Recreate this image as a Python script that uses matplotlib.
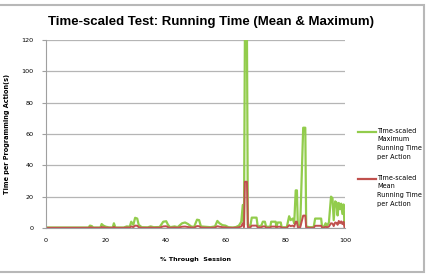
import matplotlib
matplotlib.use("Agg")
import matplotlib.pyplot as plt
from matplotlib.patches import Rectangle
from matplotlib.lines import Line2D

# % through session and running times (s)
pct = [0, 13, 14.2, 14.7, 15.3, 15.8, 18.2, 18.6, 19.2, 20, 21, 22.3, 22.7, 23.2,
       26, 27, 28, 28.5, 29.2, 29.8, 30.5, 31, 32, 34, 35, 36, 38, 39.2, 40.2,
       40.8, 41.5, 43, 44, 45.5, 46.5, 47.5, 48.5, 49.5, 50.5, 51.2, 51.8, 53,
       55, 56.5, 57.3, 58, 59, 60, 61, 62.5, 63.5, 64.5, 65.3, 65.8, 66.2, 66.5,
       67.2, 67.5, 68.3, 68.8, 70.4, 70.8, 72, 72.5, 73.2, 73.6, 75, 75.3, 76.8,
       77, 77.5, 78.5, 78.8, 80.5, 81.3, 81.8, 82.5, 83, 83.5, 83.9, 84.2, 85,
       86, 86.7, 87, 88, 89.5, 90, 92, 92.3, 93, 93.5, 94, 94.6, 95.3, 95.8,
       96.2, 96.7, 97.2, 97.5, 97.9, 98.3, 98.7, 99.1, 99.5, 99.8]
max_time = [0.3, 0.3, 0.3, 1.5, 1.2, 0.3, 0.3, 2.5, 1.5, 0.8, 0.4, 0.3, 3, 0.3,
            0.3, 1, 0.8, 4, 2, 6.5, 6, 2, 0.5, 0.4, 1, 0.5, 0.6, 4, 4.3,
            2, 0.5, 1, 0.5, 3, 3.5, 2.5, 1, 0.6, 5.3, 5, 1, 0.8,
            0.5, 1, 4.5, 3, 1.8, 1.5, 0.5, 0.3, 0.6, 1.5, 4, 14.7, 2, 120,
            120, 2, 1, 6.6, 6.6, 1, 1.5, 4, 4, 0.8, 0.8, 4, 4,
            0.8, 3.5, 3.5, 0.5, 0.4, 7.5, 5, 6, 3, 24, 24, 2, 1.5,
            64, 64, 1, 0.5, 0.5, 6, 6, 1, 1, 3, 1.5, 3.5, 20, 19,
            5, 17, 16, 8, 16, 12, 15.5, 9, 15, 2]
mean_time = [0.1, 0.1, 0.1, 0.4, 0.3, 0.1, 0.1, 0.6, 0.4, 0.2, 0.1, 0.1, 0.7, 0.1,
             0.1, 0.3, 0.2, 1, 0.5, 1.5, 1.4, 0.5, 0.1, 0.1, 0.3, 0.1, 0.2, 1, 1.1,
             0.5, 0.1, 0.3, 0.1, 0.8, 0.9, 0.6, 0.3, 0.2, 1.2, 1.1, 0.3, 0.2,
             0.1, 0.3, 1.1, 0.8, 0.5, 0.4, 0.1, 0.1, 0.2, 0.4, 1, 3, 0.5, 29.5,
             29.5, 0.5, 0.3, 1.5, 1.5, 0.3, 0.4, 1, 1, 0.2, 0.2, 0.9, 0.9,
             0.2, 0.8, 0.8, 0.1, 0.1, 1.8, 1.2, 1.5, 0.8, 4, 4, 0.5, 0.4,
             7.9, 7.9, 0.3, 0.1, 0.1, 1.4, 1.4, 0.3, 0.3, 0.8, 0.4, 0.9, 3, 2.8,
             1.2, 3.5, 3.2, 2, 4.5, 3, 4.2, 2.5, 4, 0.5]

labels = ["Time-scaled\nMaximum\nRunning Time\nper Action",
          "Time-scaled\nMean\nRunning Time\nper Action"]
colors = ["#92cc4c", "#c0504d"]

fig = plt.figure(figsize=(4.26, 2.74), dpi=100)
fig.patches.append(Rectangle((-0.01, 0.007), 1.005, 0.975, transform=fig.transFigure,
                             fill=False, edgecolor="#b8b8b8", linewidth=1.5))
ax = fig.add_axes([0.108, 0.168, 0.702, 0.686])

ax.plot(pct, max_time, color=colors[0], linewidth=1.6)
ax.plot(pct, mean_time, color=colors[1], linewidth=1.4)

ax.set_xlim(0, 100)
ax.set_ylim(0, 120)
ax.set_xticks([0, 20, 40, 60, 80, 100])
ax.set_yticks([0, 20, 40, 60, 80, 100, 120])
ax.grid(axis="y", color="#b5b5b5", linewidth=0.9)
ax.set_axisbelow(True)
for s in ["top", "right"]:
    ax.spines[s].set_visible(False)
ax.spines["left"].set_color("#a0a0a0")
ax.spines["bottom"].set_color("#a0a0a0")
ax.tick_params(axis="y", length=3, color="#a0a0a0", labelsize=4.6, pad=6)
ax.tick_params(axis="x", length=0, labelsize=4.6, pad=7)

ax.set_xlabel("% Through  Session", fontsize=4.6, fontweight="bold", labelpad=10)
ax.set_ylabel("Time per Programming Action(s)", fontsize=4.7, fontweight="bold", labelpad=8)
fig.suptitle("Time-scaled Test: Running Time (Mean & Maximum)", fontsize=9.5,
             fontweight="bold", x=0.495, y=0.94, family="Liberation Sans")

# legend: line sits level with the first text line, like Excel does it
for lab, col, yy in zip(labels, colors, [0.518, 0.347]):
    fig.lines.append(Line2D([0.84, 0.883], [yy, yy], transform=fig.transFigure,
                            color=col, linewidth=1.6))
    fig.text(0.886, yy + 0.016, lab, fontsize=4.7, va="top", ha="left", linespacing=1.55)

fig.savefig("out.png", dpi=100)
